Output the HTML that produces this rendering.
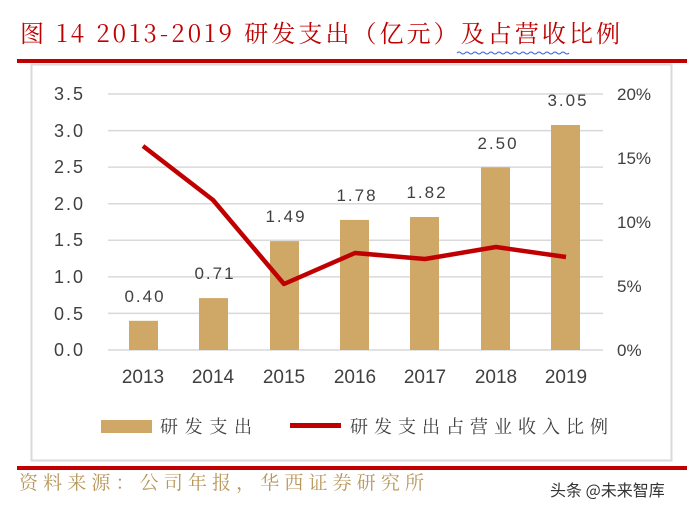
<!DOCTYPE html>
<html><head><meta charset="utf-8"><style>
body{margin:0;background:#fff;width:687px;height:511px;overflow:hidden;position:relative;font-family:"Liberation Sans","Noto Sans CJK SC",sans-serif}
</style></head><body>
<svg width="687" height="511" xmlns="http://www.w3.org/2000/svg" style="position:absolute;left:0;top:0">
<text x="20" y="42" font-family="Noto Serif CJK SC, serif" font-size="24" fill="#c00000" textLength="600" lengthAdjust="spacing">图 14 2013-2019 研发支出（亿元）及占营收比例</text>
<path d="M457 53 q2 -2 4 0 t4 0 t4 0 t4 0 t4 0 t4 0 t4 0 t4 0 t4 0 t4 0 t4 0 t4 0 t4 0 t4 0 t4 0 t4 0 t4 0 t4 0 t4 0 t4 0 t4 0 t4 0 t4 0 t4 0 t4 0 t4 0 t4 0 t4 0" stroke="#3060e0" fill="none" stroke-width="1"/>
<rect x="17" y="59" width="670" height="4" fill="#c00000"/>
<rect x="31.5" y="64.5" width="640" height="396" fill="none" stroke="#d9d9d9" stroke-width="2"/>
<g stroke="#d9d9d9" stroke-width="1.5">
<line x1="108" x2="603" y1="94" y2="94"/><line x1="108" x2="603" y1="130.6" y2="130.6"/><line x1="108" x2="603" y1="167.1" y2="167.1"/><line x1="108" x2="603" y1="203.7" y2="203.7"/><line x1="108" x2="603" y1="240.3" y2="240.3"/><line x1="108" x2="603" y1="276.9" y2="276.9"/><line x1="108" x2="603" y1="313.4" y2="313.4"/><line x1="108" x2="603" y1="350" y2="350"/>
</g>
<g font-size="18" fill="#404040" text-anchor="end" letter-spacing="2">
<text x="85" y="100">3.5</text><text x="85" y="137">3.0</text><text x="85" y="173">2.5</text><text x="85" y="210">2.0</text><text x="85" y="246">1.5</text><text x="85" y="283">1.0</text><text x="85" y="320">0.5</text><text x="85" y="356">0.0</text>
</g>
<g font-size="17" fill="#404040">
<text x="617" y="100">20%</text><text x="617" y="164">15%</text><text x="617" y="228">10%</text><text x="617" y="292">5%</text><text x="617" y="356">0%</text>
</g>
<g fill="#cfa766">
<rect x="129" y="320.8" width="29" height="29.2"/>
<rect x="199" y="298.1" width="29" height="51.9"/>
<rect x="270" y="241.1" width="29" height="108.9"/>
<rect x="340" y="219.9" width="29" height="130.1"/>
<rect x="410" y="217" width="29" height="133"/>
<rect x="481" y="167.3" width="29" height="182.7"/>
<rect x="551" y="125" width="29" height="225"/>
</g>
<g font-size="17" fill="#404040" text-anchor="middle" letter-spacing="2">
<text x="145" y="302">0.40</text><text x="215" y="279">0.71</text><text x="286" y="222">1.49</text><text x="357" y="201">1.78</text><text x="427" y="198">1.82</text><text x="498" y="149">2.50</text><text x="568" y="106">3.05</text>
</g>
<polyline points="143,146 213,200 284,284 355,253 425,259 496,247 566,257" fill="none" stroke="#c00000" stroke-width="4.5" stroke-linejoin="round"/>
<g font-size="19" fill="#404040" text-anchor="middle">
<text x="143" y="383">2013</text><text x="213" y="383">2014</text><text x="284" y="383">2015</text><text x="355" y="383">2016</text><text x="425" y="383">2017</text><text x="496" y="383">2018</text><text x="566" y="383">2019</text>
</g>
<rect x="101" y="420" width="51" height="13" fill="#cfa766"/>
<text x="160" y="433" font-family="Noto Serif CJK SC, serif" font-size="18" fill="#404040" textLength="92" lengthAdjust="spacing">研发支出</text>
<rect x="290" y="423" width="51" height="5" fill="#c00000"/>
<text x="350" y="433" font-family="Noto Serif CJK SC, serif" font-size="18" fill="#404040" textLength="258" lengthAdjust="spacing">研发支出占营业收入比例</text>
<rect x="17" y="466" width="670" height="4" fill="#c00000"/>
<text x="19" y="489" font-family="Noto Serif CJK SC, serif" font-size="19" fill="#b8965a" textLength="405" lengthAdjust="spacing">资料来源：公司年报，华西证券研究所</text>
<text x="550" y="496" font-family="Noto Sans CJK SC, sans-serif" font-size="16" fill="#333">头条 @未来智库</text>
</svg>
</body></html>
